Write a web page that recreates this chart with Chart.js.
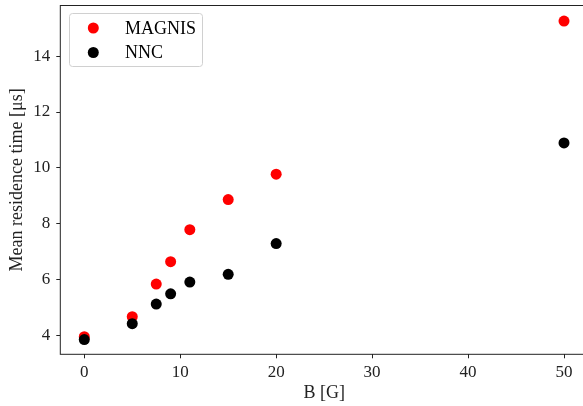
<!DOCTYPE html>
<html>
<head>
<meta charset="utf-8">
<script src="https://cdn.jsdelivr.net/npm/chart.js@4.4.1/dist/chart.umd.min.js"></script>
<style>
  html, body { margin: 0; padding: 0; overflow: hidden; background: #fff; }
  #wrap { width: 597px; height: 406px; }
</style>
</head>
<body>
<div id="wrap"><canvas id="c" width="597" height="406"></canvas></div>
<script>
// field values B [G]
const fieldB = [0, 5, 7.5, 9, 11, 15, 20, 50];
// mean residence time [us]
const magnis = [3.94, 4.66, 5.83, 6.63, 7.78, 8.86, 9.77, 15.26];
const nnc = [3.84, 4.41, 5.11, 5.48, 5.90, 6.18, 7.28, 10.89];

const xTicks = [0, 10, 20, 30, 40, 50];
const yTicks = [4, 6, 8, 10, 12, 14];

const serif = "'Liberation Serif', 'DejaVu Serif', serif";

function toPoints(xs, ys) {
    return xs.map((x, i) => ({ x: x, y: ys[i] }));
}

// frame round the plot, like the matplotlib spines
const framePlugin = {
    id: 'frame',
    afterDraw(chart) {
        const a = chart.chartArea;
        const ctx = chart.ctx;
        ctx.save();
        ctx.strokeStyle = '#222';
        ctx.lineWidth = 1;
        ctx.strokeRect(a.left, a.top, a.right - a.left, a.bottom - a.top);
        ctx.restore();
    }
};

// legend box in the upper left corner
const legendPlugin = {
    id: 'boxLegend',
    afterDraw(chart) {
        const ctx = chart.ctx;
        const x0 = 69.5, y0 = 13.5, w = 133, h = 53, r = 3;
        ctx.save();
        ctx.fillStyle = 'rgba(255,255,255,0.8)';
        ctx.strokeStyle = '#d0d0d0';
        ctx.lineWidth = 1;
        ctx.beginPath();
        ctx.roundRect(x0, y0, w, h, r);
        ctx.fill();
        ctx.stroke();
        ctx.font = '18px ' + serif;
        ctx.textBaseline = 'middle';
        chart.data.datasets.forEach((ds, i) => {
            const cy = 28 + i * 24.5;
            ctx.fillStyle = ds.backgroundColor;
            ctx.beginPath();
            ctx.arc(93.3, cy, 5.5, 0, Math.PI * 2);
            ctx.fill();
            ctx.fillStyle = '#000';
            ctx.fillText(ds.label, 125, cy + 1);
        });
        ctx.restore();
    }
};

new Chart(document.getElementById('c'), {
    type: 'scatter',
    data: {
        datasets: [
            {
                label: 'MAGNIS',
                data: toPoints(fieldB, magnis),
                backgroundColor: '#ff0000',
                borderColor: '#ff0000',
                pointRadius: 5.5,
                borderWidth: 0,
                order: 1
            },
            {
                label: 'NNC',
                data: toPoints(fieldB, nnc),
                backgroundColor: '#000000',
                borderColor: '#000000',
                pointRadius: 5.5,
                borderWidth: 0,
                order: 0
            }
        ]
    },
    options: {
        responsive: false,
        animation: false,
        layout: { padding: { left: 0, right: 9, top: 4.7, bottom: 0 } },
        plugins: {
            legend: { display: false },
            tooltip: { enabled: false }
        },
        scales: {
            x: {
                type: 'linear',
                min: -2.5,
                max: 52.5,
                afterBuildTicks: (s) => { s.ticks = xTicks.map(v => ({ value: v })); },
                afterFit: (s) => { s.height = 51.7; s.paddingLeft = 0; s.paddingRight = 0; },
                ticks: { color: '#222', font: { family: serif, size: 17 }, padding: 4, maxRotation: 0 },
                grid: { display: true, drawOnChartArea: false, drawTicks: true, tickLength: 4, color: '#222' },
                border: { display: false },
                title: { display: true, text: 'B [G]', color: '#222', font: { family: serif, size: 18 }, padding: { top: 0, bottom: 2 } }
            },
            y: {
                type: 'linear',
                min: 3.31,
                max: 15.82,
                afterBuildTicks: (s) => { s.ticks = yTicks.map(v => ({ value: v })); },
                afterFit: (s) => { s.width = 60.3; s.paddingTop = 0; s.paddingBottom = 0; },
                ticks: { color: '#222', font: { family: serif, size: 17 }, padding: 6 },
                grid: { display: true, drawOnChartArea: false, drawTicks: true, tickLength: 4, color: '#222' },
                border: { display: false },
                title: { display: true, text: 'Mean residence time [μs]', color: '#222', font: { family: serif, size: 18 }, padding: { top: 6, bottom: 0 } }
            }
        }
    },
    plugins: [framePlugin, legendPlugin]
});
</script>
</body>
</html>
